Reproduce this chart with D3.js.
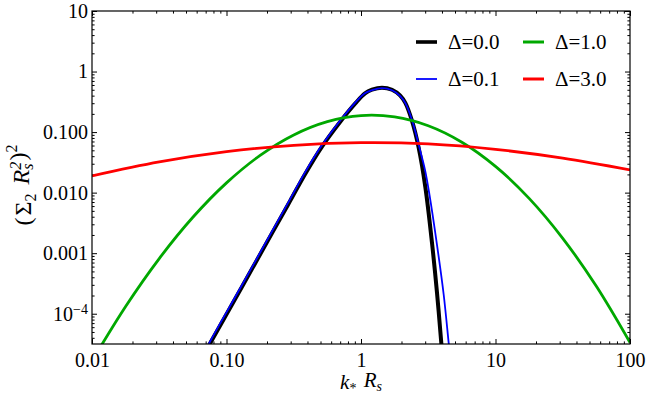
<!DOCTYPE html>
<html>
<head>
<meta charset="utf-8">
<script src="https://cdn.jsdelivr.net/npm/d3@7"></script>
</head>
<body style="margin:0;background:#fff">
<svg id="chart" width="648" height="401" style="display:block"></svg>
<script>
// ---------------- data ----------------
const seriesNames = ["Δ=0.0", "Δ=0.1", "Δ=1.0", "Δ=3.0"];
const seriesColors = ["#000000", "#0000ff", "#00a800", "#ff0000"];

const kDelta00 = [0.0692, 0.07578, 0.1304, 0.218, 0.298, 0.3854, 0.5129, 0.6828, 0.907, 1.0708, 1.2071, 1.4326, 1.7003, 1.9498, 2.1355, 2.3943, 2.6853, 3.0073, 3.3713, 3.6733, 3.9537, 4.0356];
const vDelta00 = [2.298e-5, 3.284e-5, 2.79e-4, 2.146e-3, 7.379e-3, 0.02058, 0.05763, 0.1376, 0.2976, 0.435, 0.5008, 0.5424, 0.5008, 0.4033, 0.3033, 0.153, 0.05486, 0.01246, 1.484e-3, 2.22e-4, 3.284e-5, 1.879e-5];

const kDelta01 = [0.06803, 0.07448, 0.1282, 0.2143, 0.293, 0.3788, 0.5042, 0.6713, 0.8948, 1.0617, 1.2071, 1.4326, 1.7003, 1.9498, 2.142, 2.4065, 2.7221, 2.9915, 3.2304, 3.6733, 4.1201, 4.4875, 4.6282];
const vDelta01 = [2.146e-5, 3.284e-5, 2.79e-4, 2.146e-3, 7.379e-3, 0.02058, 0.05763, 0.1376, 0.2976, 0.435, 0.4913, 0.5322, 0.4913, 0.3958, 0.2976, 0.153, 0.05486, 0.02378, 9.198e-3, 1.376e-3, 2.058e-4, 3.284e-5, 1.741e-5];

const kDelta10 = [0.01, 0.01778, 0.03162, 0.05623, 0.1, 0.1778, 0.3162, 0.5623, 1, 1.778, 3.162, 5.623, 10, 17.78, 31.62, 56.23, 100];
const vDelta10 = [1.66e-5, 1.318e-4, 8.155e-4, 3.914e-3, 0.01449, 0.04123, 0.08978, 0.1489, 0.1874, 0.178, 0.1272, 0.06808, 0.02716, 8.04e-3, 1.76e-3, 2.836e-4, 3.346e-5];

const kDelta30 = [0.01, 0.03162, 0.1, 0.3162, 1, 3.162, 10, 31.62, 100];
const vDelta30 = [0.01888, 0.03214, 0.04742, 0.06053, 0.06699, 0.06383, 0.05188, 0.03715, 0.02377];

const xTickValues = [0.01, 0.1, 1, 10, 100];
const xTickLabels = ["0.01", "0.10", "1", "10", "100"];
const yTickValues = [10, 1, 0.1, 0.01, 0.001, 1e-4];
const yTickLabels = ["10", "1", "0.100", "0.010", "0.001", "10^-4"];

// ---------------- layout ----------------
const W = 648, H = 401;
const margin = { left: 92, right: 18, top: 11, bottom: 57 };
const iw = W - margin.left - margin.right;
const ih = H - margin.top - margin.bottom;
const FONT = '"Liberation Serif", "Times New Roman", serif';

const svg = d3.select("#chart").attr("font-family", FONT);
const g = svg.append("g").attr("transform", `translate(${margin.left},${margin.top})`);

const x = d3.scaleLog().domain([0.01, 100]).range([0, iw]);
const y = d3.scaleLog().domain([Math.pow(10, -4.5), 10]).range([ih, 0]);

function minorTicks(lo, hi) {
  const out = [];
  for (let e = lo; e < hi; e++) {
    for (let m = 2; m <= 9; m++) out.push(m * Math.pow(10, e));
  }
  return out;
}
const xMinor = minorTicks(-2, 2);
const yMinor = minorTicks(-5, 1).filter(v => v >= Math.pow(10, -4.5) && v <= 10);

const MAJ = 5, MIN = 2.6, FS = 20;

function styleAxis(sel) {
  sel.attr("font-family", FONT);
  sel.select(".domain").remove();
  sel.selectAll(".tick line").attr("stroke", "#000").attr("stroke-width", 1);
  sel.selectAll("text").attr("font-size", FS).attr("font-family", FONT).attr("fill", "#000");
}

// bottom
g.append("g").attr("transform", `translate(0,${ih})`)
  .call(d3.axisBottom(x).tickValues(xTickValues).tickFormat((d, i) => xTickLabels[i]).tickSizeInner(-MAJ).tickSizeOuter(0).tickPadding(MAJ + 4))
  .call(styleAxis);
g.append("g").attr("transform", `translate(0,${ih})`)
  .call(d3.axisBottom(x).tickValues(xMinor).tickFormat("").tickSizeInner(-MIN).tickSizeOuter(0))
  .call(styleAxis);
// top
g.append("g")
  .call(d3.axisTop(x).tickValues(xTickValues).tickFormat("").tickSizeInner(-MAJ).tickSizeOuter(0))
  .call(styleAxis);
g.append("g")
  .call(d3.axisTop(x).tickValues(xMinor).tickFormat("").tickSizeInner(-MIN).tickSizeOuter(0))
  .call(styleAxis);
// left
const yAxisG = g.append("g")
  .call(d3.axisLeft(y).tickValues(yTickValues).tickFormat((d, i) => yTickLabels[i]).tickSizeInner(-MAJ).tickSizeOuter(0).tickPadding(4))
  .call(styleAxis);
g.append("g")
  .call(d3.axisLeft(y).tickValues(yMinor).tickFormat("").tickSizeInner(-MIN).tickSizeOuter(0))
  .call(styleAxis);
// right
g.append("g").attr("transform", `translate(${iw},0)`)
  .call(d3.axisRight(y).tickValues(yTickValues).tickFormat("").tickSizeInner(-MAJ).tickSizeOuter(0))
  .call(styleAxis);
g.append("g").attr("transform", `translate(${iw},0)`)
  .call(d3.axisRight(y).tickValues(yMinor).tickFormat("").tickSizeInner(-MIN).tickSizeOuter(0))
  .call(styleAxis);

// superscript label 10^-4
yAxisG.selectAll(".tick text").each(function (d, i) {
  const lab = yTickLabels[i];
  if (lab.includes("^")) {
    const [base, exp] = lab.split("^");
    const t = d3.select(this).text(null);
    t.append("tspan").text(base);
    t.append("tspan").attr("dy", "-0.45em").attr("font-size", FS * 0.7).text(exp.replace("-", "\u2212"));
  }
});

svg.append("defs").append("clipPath").attr("id", "clip")
  .append("rect").attr("x", 0).attr("y", 0).attr("width", iw).attr("height", ih);

const line = d3.line().x(d => x(d[0])).y(d => y(d[1])).curve(d3.curveCatmullRom.alpha(0.5));
const series = [
  { k: kDelta00, v: vDelta00, w: 4 },
  { k: kDelta01, v: vDelta01, w: 1.8 },
  { k: kDelta10, v: vDelta10, w: 2.8 },
  { k: kDelta30, v: vDelta30, w: 2.8 },
];
const plot = g.append("g").attr("clip-path", "url(#clip)");
series.forEach((s, i) => {
  plot.append("path")
    .datum(s.k.map((k, j) => [k, s.v[j]]))
    .attr("fill", "none")
    .attr("stroke", seriesColors[i])
    .attr("stroke-width", s.w)
    .attr("stroke-linejoin", "round")
    .attr("d", line);
});

// frame
g.append("rect").attr("x", 0).attr("y", 0).attr("width", iw).attr("height", ih)
  .attr("fill", "none").attr("stroke", "#000").attr("stroke-width", 1.2);

// legend
const legendPos = [[416, 42], [416, 79], [523, 42], [523, 79]];
series.forEach((s, i) => {
  const [lx, ly] = legendPos[i];
  svg.append("line").attr("x1", lx).attr("x2", lx + 21).attr("y1", ly).attr("y2", ly)
    .attr("stroke", seriesColors[i]).attr("stroke-width", i === 1 ? 1.8 : (i === 0 ? 3.6 : 3));
  svg.append("text").attr("x", lx + 32).attr("y", ly).attr("dy", "0.35em")
    .attr("font-family", FONT).attr("font-size", 21).text(seriesNames[i]);
});

// x title: k_* R_s
const xt = svg.append("text").attr("x", margin.left + iw / 2).attr("y", 389)
  .attr("text-anchor", "middle").attr("font-family", FONT).attr("font-size", 21);
xt.append("tspan").attr("font-style", "italic").text("k");
xt.append("tspan").attr("font-size", 14).attr("dy", "0.3em").text("*");
xt.append("tspan").attr("dy", "-0.3em").attr("dx", 2).text(" ");
xt.append("tspan").attr("font-style", "italic").text("R");
xt.append("tspan").attr("font-style", "italic").attr("font-size", 14).attr("dy", "0.3em").text("s");

// y title: (Σ_2 R_s^2)^2
const yt = svg.append("text").attr("transform", `translate(31,185) rotate(-90)`)
  .attr("text-anchor", "middle").attr("font-family", FONT).attr("font-size", 24);
yt.append("tspan").text("(");
yt.append("tspan").attr("dx", 2).text("Σ");
yt.append("tspan").attr("font-size", 16).attr("dy", "0.3em").text("2");
yt.append("tspan").attr("dy", "-0.3em").attr("dx", 3).text(" ");
yt.append("tspan").attr("font-style", "italic").text("R");
yt.append("tspan").attr("font-style", "italic").attr("font-size", 16).attr("dy", "-0.5em").text("2");
yt.append("tspan").attr("font-style", "italic").attr("font-size", 16).attr("dx", "-0.5em").attr("dy", "0.8em").text("s");
yt.append("tspan").attr("dy", "-0.3em").attr("dx", 3).text(")");
yt.append("tspan").attr("font-size", 16).attr("dy", "-0.55em").text("2");
</script>
</body>
</html>
